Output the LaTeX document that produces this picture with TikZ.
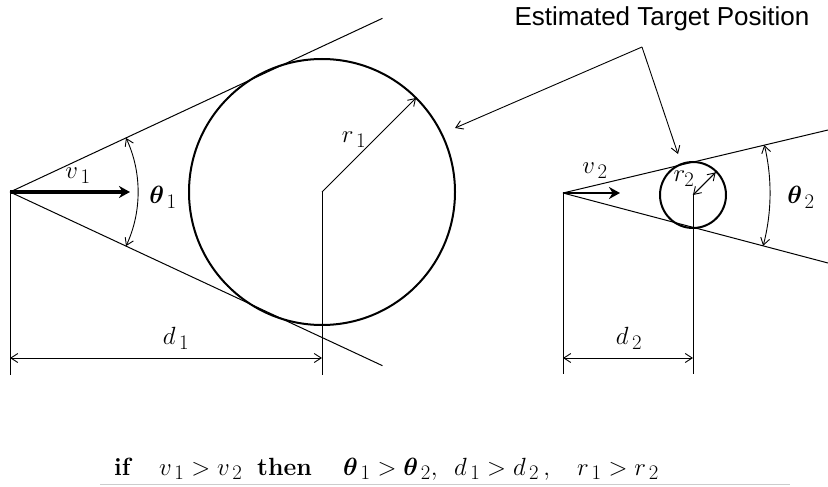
\documentclass[tikz,border=0pt]{standalone}
\usepackage{amsmath,bm}
\usepackage{fontspec}
\newfontfamily\arialf{Liberation Sans}
\usetikzlibrary{arrows.meta,calc}
\tikzset{
  geo/.style={line width=1pt, black},
  ring/.style={circle, draw, line width=2pt, inner sep=0pt},
  dimarrow/.style={line width=0.9pt, {Straight Barb[length=7pt,width=9pt]}-{Straight Barb[length=7pt,width=9pt]}},
  onearrow/.style={line width=0.9pt, -{Straight Barb[length=7pt,width=9pt]}},
  velarrow/.style={line width=3.5pt, -{Stealth[length=11pt,width=12pt]}},
  lbl/.style={inner sep=0pt, font=\fontsize{24.88}{28}\selectfont},
  stmtpart/.style={inner sep=0pt, anchor=base west, font=\fontsize{24.88}{28}\selectfont},
}
\begin{document}
\begin{tikzpicture}[x=1pt,y=-1pt]
\useasboundingbox (0,0) rectangle (828,487);
% ---- left cone ----
\coordinate (a1) at (10,192);
\coordinate (c1) at (322,192);
\node[ring, minimum size=266pt] (circ1) at (c1) {};
\draw[geo] (a1) -- ($(a1)+(-25:411)$) coordinate (u1);
\draw[geo] (a1) -- ($(a1)+(25:411)$) coordinate (l1);
\draw[velarrow] (a1) -- ++(120,0) coordinate (v1e);
\node[lbl] (v1) at (78,176) {$v_{\,1}$};
\draw[dimarrow] ($(a1)+(-25:128)$) arc[start angle=-25, end angle=25, radius=128];
\node[lbl] (th1) at (163,197) {$\bm{\theta}_{\,1}$};
\draw[onearrow] (c1) -- ($(c1)+(-45:133)$) coordinate (r1e);
\node[lbl] (r1) at (354,140) {$r_{\,1}$};
\draw[geo] (a1) -- (10,375) coordinate (a1b);
\draw[geo] (c1) -- (322,375) coordinate (c1b);
\coordinate (d1l) at (10,358);
\coordinate (d1r) at (322,358);
\draw[dimarrow] (d1l) -- (d1r);
\node[lbl] (d1) at (176,338) {$d_{\,1}$};
% ---- right cone ----
\coordinate (a2) at (563,193);
\coordinate (c2) at (693,195);
\node[ring, minimum size=66pt] (circ2) at (c2) {};
\draw[geo] (a2) -- (828,130) coordinate (u2);
\draw[geo] (a2) -- (828,263) coordinate (l2);
\draw[velarrow, line width=2.5pt] (a2) -- (620,193) coordinate (v2e);
\node[lbl] (v2) at (595,171) {$v_{\,2}$};
\draw[onearrow] (c2) -- ($(c2)+(-45:32)$) coordinate (r2e);
\draw[onearrow] (r2e) -- (c2);
\node[lbl] (r2) at (684,179) {$r_{2}$};
\draw[dimarrow] ($(a2)+(-13.4:207)$) arc[start angle=-13.4, end angle=14.8, radius=207];
\node[lbl] (th2) at (801,197) {$\bm{\theta}_{\,2}$};
\draw[geo] (a2) -- (563,374) coordinate (a2b);
\draw[geo] (c2) -- (693,374) coordinate (c2b);
\coordinate (d2l) at (563,358);
\coordinate (d2r) at (693,358);
\draw[dimarrow] (d2l) -- (d2r);
\node[lbl] (d2) at (629,338) {$d_{\,2}$};
% ---- callout ----
\node[inner sep=0pt, font=\arialf\fontsize{26}{30}\selectfont] (etp) at (662,19) {Estimated Target Position};
\coordinate (knee) at (642,47);
\draw[onearrow] (knee) -- (455,128);
\draw[onearrow] (knee) -- (678,154);
% ---- bottom statement ----
\node[stmtpart] (sif) at (114,475) {\textbf{if}};
\node[stmtpart] (sv) at (159,475) {$v_{\,1}>v_{\,2}$};
\node[stmtpart] (sthen) at (257,475) {\textbf{then}};
\node[stmtpart] (sth) at (343,475) {$\bm{\theta}_{\,1}>\bm{\theta}_{\,2},$};
\node[stmtpart] (sd) at (454,475) {$d_{\,1}>d_{\,2}\,,$};
\node[stmtpart] (sr) at (577,475) {$r_{\,1}>r_{\,2}$};
\draw[gray!40, line width=0.8pt] (100,484) -- (790,484);
\end{tikzpicture}
\end{document}
